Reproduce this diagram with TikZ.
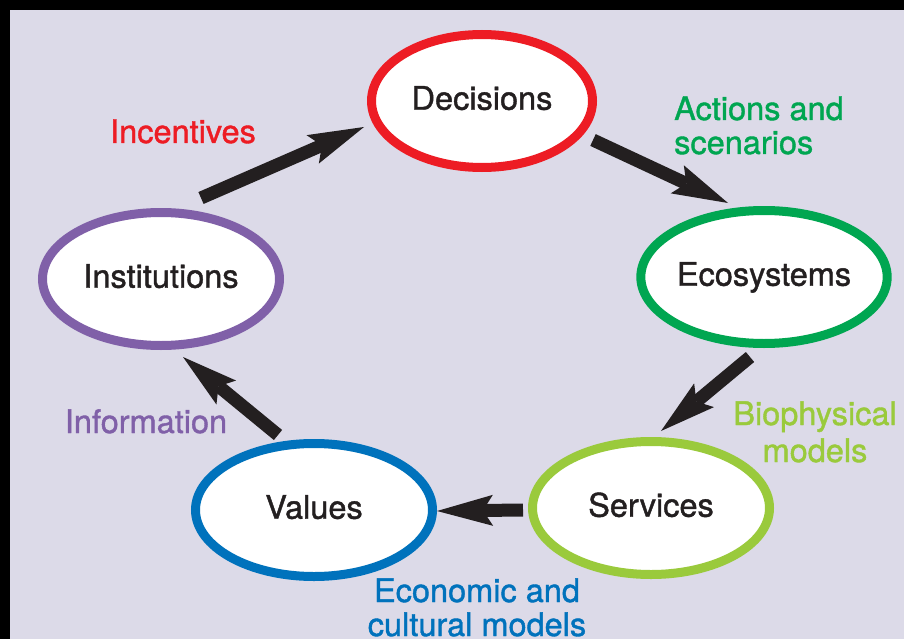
\documentclass[tikz,border=0pt]{standalone}
\usepackage{fontspec}
\setmainfont{TeX Gyre Heros}
\newfontfamily\medfont[FakeBold=1.2]{TeX Gyre Heros}
\usetikzlibrary{arrows.meta,shapes.geometric}
\definecolor{bg}{RGB}{220,218,232}
\definecolor{cred}{RGB}{237,28,36}
\definecolor{cgreen}{RGB}{0,166,81}
\definecolor{clime}{RGB}{154,202,60}
\definecolor{cblue}{RGB}{0,114,188}
\definecolor{cpurple}{RGB}{128,96,168}
\definecolor{ink}{RGB}{35,31,32}
\tikzset{
  stage/.style={ellipse, draw, fill=white, line width=9pt, inner sep=0pt,
    minimum width=237pt, minimum height=133pt, text=ink,
    text height=23.4pt, text depth=6pt},
  arr/.style={draw=ink, line width=13pt,
    -{Stealth[length=56pt,width=31pt,inset=10pt,line width=0pt]}},
  lab/.style={inner sep=0pt}
}
\begin{document}
\begin{tikzpicture}[x=1pt,y=-1pt,font=\medfont\fontsize{32.5}{35}\selectfont]
\useasboundingbox (0,0) rectangle (904,639);
\fill[black] (0,0) rectangle (904,639);
\fill[bg] (10,10) rectangle (904,639);

\node[stage, draw=cred, minimum width=221pt] (dec) at (482,101) {Decisions};
\node[stage, draw=cgreen] (eco) at (764,277) {Ecosystems};
\node[stage, draw=clime] (ser) at (651,508) {Services};
\node[stage, draw=cblue] (val) at (314,510) {Values};
\node[stage, draw=cpurple] (ins) at (161,279) {Institutions};

\coordinate (a1s) at (201,198);
\coordinate (a1e) at (364,127);
\coordinate (a2s) at (593,140);
\coordinate (a2e) at (728,203);
\coordinate (a3s) at (750,357);
\coordinate (a3e) at (661,431);
\coordinate (a4s) at (523,510);
\coordinate (a4e) at (437,511);
\coordinate (a5s) at (278,435);
\coordinate (a5e) at (183,357);

\draw[arr] (a1s) -- (a1e);
\draw[arr] (a2s) -- (a2e);
\draw[arr] (a3s) -- (a3e);
\draw[arr] (a4s) -- (a4e);
\draw[arr] (a5s) -- (a5e);

\node[lab, text=cred, anchor=base] (lincent) at (183,143) {Incentives};
\node[lab, text=cgreen, align=left, anchor=base west,
  font=\medfont\fontsize{32.5}{34}\selectfont] (lact) at (674,154) {Actions and\\scenarios};
\node[lab, text=clime, align=center, anchor=base,
  font=\medfont\fontsize{32.5}{37}\selectfont] (lbio) at (815,462) {Biophysical\\models};
\node[lab, text=cpurple, anchor=base] (linfo) at (146,433) {Information};
\node[lab, text=cblue, align=center, anchor=base,
  font=\medfont\fontsize{32.5}{34}\selectfont] (leco) at (477,636) {Economic and\\cultural models};
\end{tikzpicture}
\end{document}
